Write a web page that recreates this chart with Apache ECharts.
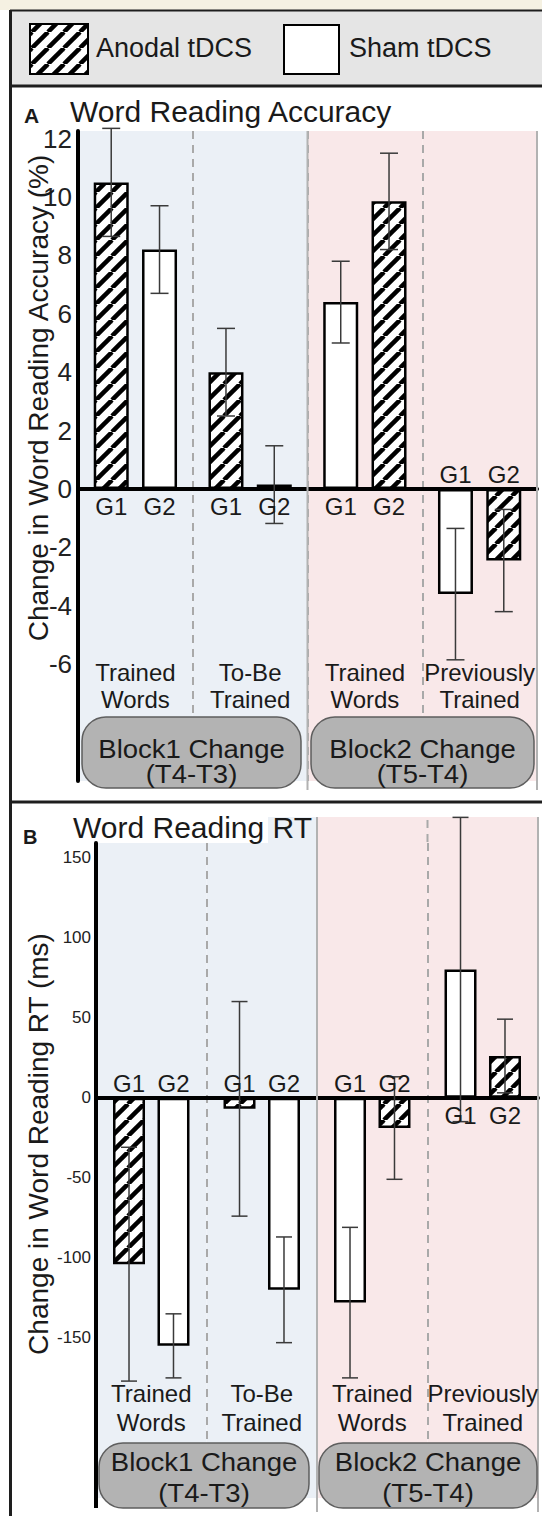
<!DOCTYPE html>
<html>
<head>
<meta charset="utf-8">
<script src="https://cdn.jsdelivr.net/npm/echarts@6/dist/echarts.min.js"></script>
<style>
html, body { margin: 0; padding: 0; background: #ffffff; }
#chart { width: 542px; height: 1516px; }
</style>
</head>
<body>
<div id="chart"></div>
<script>
// ---------------- DATA ----------------
const categories = ['Block1 Trained Words', 'Block1 To-Be Trained', 'Block2 Trained Words', 'Block2 Previously Trained'];
const categoryLabels = ['Trained\nWords', 'To-Be\nTrained', 'Trained\nWords', 'Previously\nTrained'];
const blockLabels = [['Block1 Change', '(T4-T3)'], ['Block2 Change', '(T5-T4)']];
const groupNames = ['G1', 'G2'];
const g1Condition = ['Anodal', 'Anodal', 'Sham', 'Sham'];
const g2Condition = ['Sham', 'Sham', 'Anodal', 'Anodal'];
const legendLabels = ['Anodal tDCS', 'Sham tDCS'];
const panelLetters = ['A', 'B'];
const panelTitles = ['Word Reading Accuracy', 'Word Reading RT'];
const axisTitles = ['Change in Word Reading Accuracy (%)', 'Change in Word Reading RT (ms)'];

// Panel A: change in word reading accuracy (%)
const accG1 = [10.5, 4.0, 6.4, -3.6];
const accG1Err = [1.85, 1.5, 1.4, 2.25];
const accG2 = [8.2, 0.15, 9.85, -2.45];
const accG2Err = [1.5, 1.33, 1.65, 1.75];
const accTicks = [-6, -4, -2, 0, 2, 4, 6, 8, 10, 12];

// Panel B: change in word reading RT (ms)
const rtG1 = [-104, -7, -128, 80];
const rtG1Err = [73, 67, 47, 95];
const rtG2 = [-155, -120, -19, 26];
const rtG2Err = [20, 33, 32, 23];
const rtTicks = [-150, -100, -50, 0, 50, 100, 150];

// ---------------- STYLE / LAYOUT ----------------
const FONT = '"Liberation Sans", Arial, Helvetica, sans-serif';
const BLUE = '#ebf0f6';
const PINK = '#f9e8e9';
const TEXT = '#1a1a1a';

function makeHatch() {
  const T = 16;
  const c = document.createElement('canvas');
  c.width = T; c.height = T;
  const g = c.getContext('2d');
  g.fillStyle = '#ffffff';
  g.fillRect(0, 0, T, T);
  g.strokeStyle = '#000000';
  g.lineWidth = 4.5;
  [-T, 0, T].forEach(k => {
    g.beginPath();
    g.moveTo(k, T);
    g.lineTo(k + T, 0);
    g.stroke();
  });
  return c;
}
const hatchFill = { image: makeHatch(), repeat: 'repeat' };

const panels = [
  {
    g1: accG1, g1e: accG1Err, g2: accG2, g2e: accG2Err, ticks: accTicks,
    grid: { left: 78, top: 131, width: 459, height: 650 },
    yMin: -10, yMax: 12.26, interval: 2,
    barWidth: 35, gapFrac: 0.38, cap: 9, tickFont: 26, tickMargin: 6,
    catY: [672, 699], gAbove: 14, gBelow: 18
  },
  {
    g1: rtG1, g1e: rtG1Err, g2: rtG2, g2e: rtG2Err, ticks: rtTicks,
    grid: { left: 96, top: 843, width: 442, height: 655 },
    yMin: -250, yMax: 159, interval: 50,
    barWidth: 32, gapFrac: 0.39, cap: 8, tickFont: 17, tickMargin: 5,
    catY: [1393, 1422], gAbove: 14, gBelow: 18
  }
];

const grids = [], xAxes = [], yAxes = [], series = [];

panels.forEach((p, pi) => {
  grids.push({
    left: p.grid.left, top: p.grid.top, width: p.grid.width, height: p.grid.height,
    containLabel: false, outerBoundsMode: 'none', show: false
  });
  xAxes.push({
    gridIndex: pi, type: 'category', data: categories, boundaryGap: true, z: 0,
    axisLine: { show: true, onZero: true, lineStyle: { color: '#000', width: 4 } },
    axisTick: { show: false },
    axisLabel: { show: false },
    splitLine: {
      show: true, interval: 0, showMinLine: false, showMaxLine: false,
      lineStyle: { color: '#a9a9a9', width: 2, type: [8, 6] }
    },
    splitArea: { show: true, interval: 0, areaStyle: { color: [BLUE, BLUE, PINK, PINK] } }
  });
  yAxes.push({
    gridIndex: pi, type: 'value', min: p.yMin, max: p.yMax, interval: p.interval,
    axisLine: { show: true, onZero: false, lineStyle: { color: '#000', width: 4 } },
    axisTick: { show: false },
    splitLine: { show: false },
    axisLabel: {
      show: true, margin: p.tickMargin, fontSize: p.tickFont, color: '#222', fontFamily: FONT,
      formatter: v => (p.ticks.some(t => Math.abs(t - v) < 1e-6) ? String(Math.round(v)) : '')
    }
  });

  const offset = p.barWidth * (1 + p.gapFrac) / 2;
  const groups = [
    { name: groupNames[0], vals: p.g1, errs: p.g1e, conds: g1Condition, sign: -1 },
    { name: groupNames[1], vals: p.g2, errs: p.g2e, conds: g2Condition, sign: 1 }
  ];
  groups.forEach(gr => {
    series.push({
      type: 'bar', name: gr.name, xAxisIndex: pi, yAxisIndex: pi, silent: true,
      barWidth: p.barWidth, barGap: (p.gapFrac * 100) + '%', z: 2,
      itemStyle: { borderColor: '#000', borderWidth: 2.5 },
      data: gr.vals.map((v, i) => ({
        value: v,
        itemStyle: { color: gr.conds[i] === 'Anodal' ? hatchFill : '#ffffff' }
      }))
    });
  });
  groups.forEach(gr => {
    series.push({
      type: 'custom', name: gr.name + ' error', xAxisIndex: pi, yAxisIndex: pi,
      silent: true, clip: false, z: 4,
      encode: { x: 0, y: 1 },
      data: gr.vals.map((v, i) => [i, v, gr.errs[i]]),
      renderItem: (params, api) => {
        const i = api.value(0), v = api.value(1), e = api.value(2);
        const c = api.coord([i, v]);
        const x = c[0] + gr.sign * offset;
        const hi = api.coord([i, v + e])[1];
        const lo = api.coord([i, v - e])[1];
        const z0 = api.coord([i, 0])[1];
        const st = { stroke: '#3a3a3a', lineWidth: 1.5 };
        return {
          type: 'group',
          children: [
            { type: 'line', shape: { x1: x, y1: hi, x2: x, y2: lo }, style: st },
            { type: 'line', shape: { x1: x - p.cap, y1: hi, x2: x + p.cap, y2: hi }, style: st },
            { type: 'line', shape: { x1: x - p.cap, y1: lo, x2: x + p.cap, y2: lo }, style: st },
            {
              type: 'text', x: x, y: v >= 0 ? z0 + p.gBelow : z0 - p.gAbove,
              style: { text: gr.name, fontSize: 24, fontFamily: FONT, fill: TEXT, align: 'center', verticalAlign: 'middle' }
            }
          ]
        };
      }
    });
  });
  // category labels under the bars
  series.push({
    type: 'custom', name: 'category labels', xAxisIndex: pi, yAxisIndex: pi,
    silent: true, clip: false, z: 3,
    encode: { x: 0, y: 1 },
    data: categories.map((c, i) => [i, 0]),
    renderItem: (params, api) => {
      const i = api.value(0);
      const x = api.coord([i, 0])[0];
      const lines = categoryLabels[i].split('\n');
      return {
        type: 'group',
        children: lines.map((t, k) => ({
          type: 'text', x: x, y: p.catY[k],
          style: { text: t, fontSize: 24, fontFamily: FONT, fill: TEXT, align: 'center', verticalAlign: 'middle' }
        }))
      };
    }
  });
});

// ---------------- GRAPHIC DECORATIONS ----------------
const gfx = [];
const ln = (x1, y1, x2, y2, stroke, w, extra, z) => ({
  type: 'line', silent: true, z: z == null ? 1 : z,
  shape: { x1, y1, x2, y2 }, style: Object.assign({ stroke, lineWidth: w }, extra || {})
});
const txt = (text, x, y, size, opts, z) => ({
  type: 'text', silent: true, z: z == null ? 6 : z, x, y,
  rotation: (opts && opts.rotation) || 0,
  scaleX: (opts && opts.scaleX) || 1,
  style: {
    text, fontSize: size, fontFamily: FONT, fill: TEXT,
    fontWeight: (opts && opts.bold) ? 'bold' : 'normal',
    align: (opts && opts.align) || 'left', verticalAlign: 'middle'
  }
});

// page background pieces
gfx.push({ type: 'rect', silent: true, z: -5, shape: { x: 0, y: 0, width: 542, height: 10 }, style: { fill: '#f5f1e2' } });
gfx.push({ type: 'rect', silent: true, z: -5, shape: { x: 10, y: 10, width: 532, height: 76 }, style: { fill: '#e5e5e5' } });
// frame
gfx.push(ln(10, 10.5, 542, 10.5, '#1e1e1e', 2, null, 3));
gfx.push(ln(10.5, 10, 10.5, 1516, '#1e1e1e', 3, null, 3));
gfx.push(ln(10, 86, 542, 86, '#1e1e1e', 3, null, 3));
gfx.push(ln(10, 802, 542, 802, '#1e1e1e', 3, null, 3));

// legend
gfx.push({ type: 'rect', silent: true, z: 3, shape: { x: 30, y: 24, width: 58, height: 50 }, style: { fill: hatchFill, stroke: '#000', lineWidth: 2 } });
gfx.push(txt(legendLabels[0], 96, 48, 27));
gfx.push({ type: 'rect', silent: true, z: 3, shape: { x: 284, y: 25, width: 55, height: 49 }, style: { fill: '#ffffff', stroke: '#000', lineWidth: 2 } });
gfx.push(txt(legendLabels[1], 349, 48, 27));

// panel titles
gfx.push(txt(panelLetters[0], 24, 115, 21, { bold: true }));
gfx.push(txt(panelTitles[0], 70, 111, 30));
gfx.push(txt(panelLetters[1], 23, 837, 20, { bold: true }));
gfx.push(txt(panelTitles[1], 73, 827, 30));

// y-axis titles (rotated)
gfx.push(txt(axisTitles[0], 38, 398, 28, { rotation: Math.PI / 2, align: 'center' }));
gfx.push(txt(axisTitles[1], 38, 1144, 28, { rotation: Math.PI / 2, align: 'center' }));

// solid separators between blocks and at right edges
panels.forEach((p, pi) => {
  const g = p.grid;
  const mid = g.left + g.width / 2;
  const right = g.left + g.width;
  const top = pi === 0 ? g.top : 817;
  const bot = pi === 0 ? 790 : 1512;
  gfx.push(ln(mid, top, mid, bot, '#b2b2b2', 2, null, 1));
  gfx.push(ln(right, top, right, bot, '#b2b2b2', 2, null, 1));
});
// panel B: background strip above the axis (right part) and axis tail
(() => {
  const g = panels[1].grid;
  const bw = g.width / 4;
  const mid = g.left + 2 * bw;
  gfx.push({ type: 'rect', silent: true, z: -1, shape: { x: 268, y: 817, width: mid - 268, height: g.top - 817 }, style: { fill: BLUE } });
  gfx.push({ type: 'rect', silent: true, z: -1, shape: { x: mid, y: 817, width: 2 * bw, height: g.top - 817 }, style: { fill: PINK } });
  gfx.push(ln(mid + bw, 820, mid + bw, g.top, '#a9a9a9', 2, { lineDash: [8, 6] }, 0));
  gfx.push(ln(g.left, g.top + g.height - 1, g.left, 1508, '#000', 4, null, 1));
})();

// block boxes
const boxes = [
  { x: 82, y: 717, w: 219, h: 71, l1: 749, l2: 774, label: blockLabels[0] },
  { x: 311, y: 717, w: 223, h: 71, l1: 749, l2: 774, label: blockLabels[1] },
  { x: 99, y: 1443, w: 210, h: 65, l1: 1462, l2: 1493, label: blockLabels[0] },
  { x: 319, y: 1443, w: 218, h: 65, l1: 1462, l2: 1493, label: blockLabels[1] }
];
boxes.forEach(b => {
  gfx.push({ type: 'rect', silent: true, z: 5, shape: { x: b.x, y: b.y, width: b.w, height: b.h, r: 24 }, style: { fill: '#b3b3b3', stroke: '#5e5e5e', lineWidth: 1.5 } });
  gfx.push(txt(b.label[0], b.x + b.w / 2, b.l1, 25, { align: 'center', scaleX: 1.1 }, 6));
  gfx.push(txt(b.label[1], b.x + b.w / 2, b.l2, 25, { align: 'center', scaleX: 1.1 }, 6));
});

const chart = echarts.init(document.getElementById('chart'), null, { renderer: 'svg', width: 542, height: 1516 });
chart.setOption({
  animation: false,
  backgroundColor: '#ffffff',
  grid: grids,
  xAxis: xAxes,
  yAxis: yAxes,
  series: series,
  graphic: { elements: gfx }
});
</script>
</body>
</html>
